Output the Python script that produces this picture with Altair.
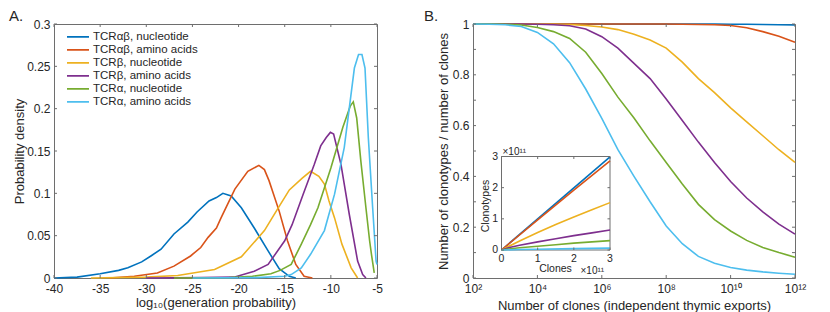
import altair as alt
import pandas as pd

SERIES = ["TCRαβ, nucleotide", "TCRαβ, amino acids", "TCRβ, nucleotide",
          "TCRβ, amino acids", "TCRα, nucleotide", "TCRα, amino acids"]
COLORS = ["#0072BD", "#D95319", "#EDB120", "#7E2F8E", "#77AC30", "#4DBEEE"]

# ---- Panel A: probability density of log10(generation probability)
A_X = [
    [-40, -37.5, -35, -33, -32, -30.5, -29.5, -28.4, -27, -25.5, -24.5, -23.2, -22.4, -21.7, -20.8, -19.7, -18.3, -16.8, -15.6, -14.5, -13.8],
    [-34, -31.3, -28.8, -27, -25.2, -24.1, -23.3, -22.4, -21.9, -20.4, -19, -17.8, -17.2, -16.7, -15.6, -14.7, -13.8, -12.9, -12],
    [-36, -30, -26.6, -22.6, -19.7, -17.2, -15.8, -14.5, -13.1, -12.2, -11.3, -10.7, -10.2, -9.6, -8.8, -7.8, -7.1],
    [-30, -24, -20.5, -18.3, -16.8, -15.0, -14.2, -13.0, -11.8, -11.1, -10.5, -10.05, -9.7, -8.9, -8.0, -7.1, -6.55, -6.2],
    [-27, -21, -18.5, -16.5, -15.5, -14.3, -13.2, -12.2, -11.4, -10.0, -8.7, -7.9, -7.57, -7.2, -6.75, -6.2, -5.8, -5.6, -5.3],
    [-25, -18, -15, -14.3, -13.2, -12.2, -10.7, -9.6, -8.55, -7.45, -7.0, -6.63, -6.3, -5.94, -5.47, -5.1, -5.0],
]
A_Y = [
    [0, 0.001, 0.005, 0.009, 0.012, 0.019, 0.026, 0.034, 0.052, 0.066, 0.078, 0.091, 0.095, 0.100, 0.097, 0.083, 0.059, 0.032, 0.011, 0.002, 0],
    [0, 0.002, 0.006, 0.014, 0.026, 0.036, 0.048, 0.059, 0.071, 0.105, 0.126, 0.133, 0.128, 0.115, 0.079, 0.044, 0.016, 0.002, 0],
    [0, 0.001, 0.003, 0.010, 0.025, 0.056, 0.081, 0.104, 0.118, 0.126, 0.120, 0.111, 0.091, 0.071, 0.040, 0.012, 0],
    [0, 0.0005, 0.001, 0.008, 0.016, 0.044, 0.063, 0.099, 0.134, 0.156, 0.166, 0.172, 0.170, 0.134, 0.075, 0.020, 0.004, 0],
    [0, 0.0005, 0.002, 0.005, 0.009, 0.016, 0.040, 0.063, 0.083, 0.130, 0.178, 0.203, 0.208, 0.189, 0.138, 0.083, 0.044, 0.028, 0.006],
    [0, 0.0005, 0.002, 0.004, 0.012, 0.028, 0.056, 0.099, 0.154, 0.248, 0.264, 0.264, 0.248, 0.166, 0.083, 0.020, 0.016],
]

# ---- Panel B: clonotypes / clones vs number of clones (log10 of clones)
B_LOGN = [2, 2.5, 3, 3.5, 4, 4.5, 5, 5.5, 6, 6.5, 7, 7.5, 8, 8.5, 9, 9.5, 10, 10.5, 11, 11.5, 12]
B_RATIO = [
    [1, 1, 1, 1, 1, 1, 1, 1, 1, 1, 1, 1, 1, 1, 1, 1, 0.999, 0.999, 0.998, 0.997, 0.996],
    [1, 1, 1, 1, 1, 1, 1, 1, 1, 1, 1, 1, 1, 0.999, 0.998, 0.997, 0.994, 0.985, 0.970, 0.952, 0.928],
    [1, 1, 1, 1, 1, 0.999, 0.998, 0.994, 0.988, 0.978, 0.960, 0.937, 0.905, 0.850, 0.785, 0.730, 0.670, 0.615, 0.560, 0.505, 0.455],
    [1, 1, 1, 1, 0.999, 0.997, 0.993, 0.980, 0.950, 0.905, 0.845, 0.785, 0.705, 0.620, 0.535, 0.455, 0.380, 0.315, 0.260, 0.212, 0.173],
    [1, 1, 0.999, 0.996, 0.986, 0.970, 0.943, 0.889, 0.805, 0.712, 0.630, 0.540, 0.455, 0.370, 0.290, 0.230, 0.185, 0.148, 0.120, 0.100, 0.082],
    [1, 0.999, 0.997, 0.990, 0.967, 0.922, 0.848, 0.744, 0.628, 0.505, 0.400, 0.300, 0.205, 0.135, 0.085, 0.058, 0.041, 0.031, 0.024, 0.019, 0.015],
]

# ---- Inset: clonotypes vs clones (units of 1e11)
C_X = [
    [0, 3],
    [0, 1, 2, 3],
    [0, 0.5, 1, 1.5, 2, 2.5, 3],
    [0, 0.25, 0.5, 1, 1.5, 2, 2.5, 3],
    [0, 0.25, 0.5, 1, 1.5, 2, 2.5, 3],
    [0, 0.5, 1, 2, 3],
]
C_Y = [
    [0, 2.99],
    [0, 0.97, 1.92, 2.86],
    [0, 0.29, 0.56, 0.82, 1.06, 1.29, 1.52],
    [0, 0.09, 0.15, 0.26, 0.36, 0.46, 0.55, 0.64],
    [0, 0.04, 0.07, 0.12, 0.17, 0.22, 0.26, 0.30],
    [0, 0.015, 0.025, 0.045, 0.06],
]

A_XTICKS = [-40, -35, -30, -25, -20, -15, -10, -5]
A_YTICKS = [0, 0.05, 0.1, 0.15, 0.2, 0.25, 0.3]
B_XTICKS = [1e2, 1e4, 1e6, 1e8, 1e10, 1e12]
B_XLABELS = ["10²", "10⁴", "10⁶", "10⁸", "10¹⁰", "10¹²"]
B_YTICKS = [0, 0.1, 0.2, 0.3, 0.4, 0.5, 0.6, 0.7, 0.8, 0.9, 1]
C_TICKS = [0, 1, 2, 3]

# ---- style / layout
FONT = "Liberation Sans"
TXT = "#262626"
FRAME = "#6e6e6e"
WA, HA = 323, 254
WB, HB = 322, 254
TK = 3
LW = 1.6
# inset frame, relative to panel B plot area
CX0, CX1, CY0, CY1 = 28.5, 137, 226, 132.5

rows = []
for s, xs, ys in zip(SERIES, A_X, A_Y):
    for x, y in zip(xs, ys):
        rows.append({"series": s, "logp": x, "density": y})
dfA = pd.DataFrame(rows)

rows = []
for s, ys in zip(SERIES, B_RATIO):
    for e, y in zip(B_LOGN, ys):
        rows.append({"series": s, "clones": 10 ** e, "ratio": y})
dfB = pd.DataFrame(rows)

rows = []
for s, xs, ys in zip(SERIES, C_X, C_Y):
    for x, y in zip(xs, ys):
        rows.append({"series": s, "clones": x, "clonotypes": y})
dfC = pd.DataFrame(rows)

color_scale = alt.Scale(domain=SERIES, range=COLORS)


def rules(values):
    return alt.Chart(pd.DataFrame({"v": values})).mark_rule(color=FRAME, strokeWidth=1)


def label(txt, x, y, **kw):
    return alt.Chart(pd.DataFrame({"t": [txt]})).mark_text(
        font=FONT, color=TXT, **kw).encode(text="t:N", x=alt.value(x), y=alt.value(y))


# ---------------- Panel A
xA = alt.Scale(domain=[A_XTICKS[0], A_XTICKS[-1]], nice=False, zero=False)
yA = alt.Scale(domain=[A_YTICKS[0], A_YTICKS[-1]], nice=False)

linesA = alt.Chart(dfA).mark_line(strokeWidth=LW).encode(
    x=alt.X("logp:Q", scale=xA,
            axis=alt.Axis(values=A_XTICKS, labelExpr="datum.value + ''",
                          labelPadding=5, titlePadding=2,
                          title="log₁₀(generation probability)")),
    y=alt.Y("density:Q", scale=yA,
            axis=alt.Axis(values=A_YTICKS, labelExpr="datum.value + ''",
                          titlePadding=0, title="Probability density")),
    color=alt.Color("series:N", scale=color_scale, sort=SERIES,
                    legend=alt.Legend(title=None, orient="none", legendX=12, legendY=7,
                                      symbolType="stroke", symbolSize=484,
                                      symbolStrokeWidth=LW, labelFontSize=11.5,
                                      clipHeight=11.7,
                                      labelOffset=3, rowPadding=0, padding=0,
                                      labelFont=FONT, labelColor=TXT)),
)
tA = [
    rules(A_XTICKS).encode(x=alt.X("v:Q", scale=xA), y=alt.value(HA), y2=alt.value(HA - TK)),
    rules(A_XTICKS).encode(x=alt.X("v:Q", scale=xA), y=alt.value(0), y2=alt.value(TK)),
    rules(A_YTICKS).encode(y=alt.Y("v:Q", scale=yA), x=alt.value(0), x2=alt.value(TK)),
    rules(A_YTICKS).encode(y=alt.Y("v:Q", scale=yA), x=alt.value(WA), x2=alt.value(WA - TK)),
]
panelA = alt.layer(linesA, *tA,
                   label("A.", -45, -3, fontSize=15, align="left", baseline="alphabetic")
                   ).properties(width=WA, height=HA)

# ---------------- Panel B
xB = alt.Scale(type="log", domain=[B_XTICKS[0], B_XTICKS[-1]], nice=False)
yB = alt.Scale(domain=[0, 1], nice=False)
expr = f"'{B_XLABELS[-1]}'"
for t, l in reversed(list(zip(B_XTICKS[:-1], B_XLABELS[:-1]))):
    expr = f"datum.value < {t * 10:g} ? '{l}' : ({expr})"

linesB = alt.Chart(dfB).mark_line(strokeWidth=LW).encode(
    x=alt.X("clones:Q", scale=xB,
            axis=alt.Axis(values=B_XTICKS, labelExpr=expr, labelPadding=5, titlePadding=5,
                          title="Number of clones (independent thymic exports)")),
    y=alt.Y("ratio:Q", scale=yB,
            axis=alt.Axis(values=B_YTICKS, labelExpr="datum.value + ''", labelOverlap=False,
                          title="Number of clonotypes / number of clones")),
    color=alt.Color("series:N", scale=color_scale, sort=SERIES, legend=None),
)
tB = [
    rules(B_XTICKS).encode(x=alt.X("v:Q", scale=xB), y=alt.value(HB), y2=alt.value(HB - TK)),
    rules(B_XTICKS).encode(x=alt.X("v:Q", scale=xB), y=alt.value(0), y2=alt.value(TK)),
    rules(B_YTICKS).encode(y=alt.Y("v:Q", scale=yB), x=alt.value(0), x2=alt.value(TK)),
    rules(B_YTICKS).encode(y=alt.Y("v:Q", scale=yB), x=alt.value(WB), x2=alt.value(WB - TK)),
]
mainB = alt.layer(linesB, *tB,
                  label("B.", -49, -3, fontSize=15, align="left", baseline="alphabetic"))

# ---------------- Inset
xC = alt.Scale(domain=[C_TICKS[0], C_TICKS[-1]], range=[CX0, CX1], nice=False, zero=False)
yC = alt.Scale(domain=[C_TICKS[0], C_TICKS[-1]], range=[CY0, CY1], nice=False, zero=False)

bgC = alt.Chart(pd.DataFrame({"a": [C_TICKS[0]], "b": [C_TICKS[-1]]})).mark_rect(
    fill="white", stroke=FRAME, strokeWidth=1).encode(
    x=alt.X("a:Q", scale=xC, axis=None), x2="b:Q",
    y=alt.Y("a:Q", scale=yC, axis=None), y2="b:Q")
linesC = alt.Chart(dfC).mark_line(strokeWidth=LW).encode(
    x=alt.X("clones:Q", scale=xC, axis=None),
    y=alt.Y("clonotypes:Q", scale=yC, axis=None),
    color=alt.Color("series:N", scale=color_scale, sort=SERIES, legend=None),
)
tC = [
    rules(C_TICKS).encode(x=alt.X("v:Q", scale=xC, axis=None), y=alt.value(CY0), y2=alt.value(CY0 - 2.5)),
    rules(C_TICKS).encode(x=alt.X("v:Q", scale=xC, axis=None), y=alt.value(CY1), y2=alt.value(CY1 + 2.5)),
    rules(C_TICKS).encode(y=alt.Y("v:Q", scale=yC, axis=None), x=alt.value(CX0), x2=alt.value(CX0 + 2.5)),
    rules(C_TICKS).encode(y=alt.Y("v:Q", scale=yC, axis=None), x=alt.value(CX1), x2=alt.value(CX1 - 2.5)),
]
ticklab = alt.Chart(pd.DataFrame({"v": C_TICKS, "t": [str(v) for v in C_TICKS]}))
labC = [
    ticklab.mark_text(font=FONT, color=TXT, fontSize=10.5, baseline="middle").encode(
        x=alt.X("v:Q", scale=xC, axis=None), y=alt.value(CY0 + 9), text="t:N"),
    ticklab.mark_text(font=FONT, color=TXT, fontSize=10.5, baseline="middle", align="right").encode(
        y=alt.Y("v:Q", scale=yC, axis=None), x=alt.value(CX0 - 3.5), text="t:N"),
    label("Clones", 82.5, 245, fontSize=10.5, baseline="middle"),
    label("×10¹¹", 107.5, 247, fontSize=10, baseline="middle", align="left"),
    label("×10¹¹", 29.5, 128, fontSize=10, baseline="middle", align="left"),
    label("Clonotypes", 12.5, 182, fontSize=10.5, baseline="middle", angle=270),
]
inset = alt.layer(bgC, linesC, *tC, *labC)

panelB = alt.layer(mainB, inset).resolve_scale(
    x="independent", y="independent").properties(width=WB, height=HB)

chart = alt.hconcat(panelA, panelB, spacing=40).resolve_scale(
    color="independent").properties(padding=0).configure_view(
    stroke=FRAME, strokeWidth=1).configure_axis(
    domain=False, ticks=False, grid=False, labelFlush=False,
    labelFont=FONT, labelFontSize=12, labelColor=TXT, labelPadding=4,
    titleFont=FONT, titleFontSize=13, titleFontWeight="normal", titleColor=TXT,
    titlePadding=2)

chart.save("out.html", embed_options={"renderer": "svg", "actions": False})
